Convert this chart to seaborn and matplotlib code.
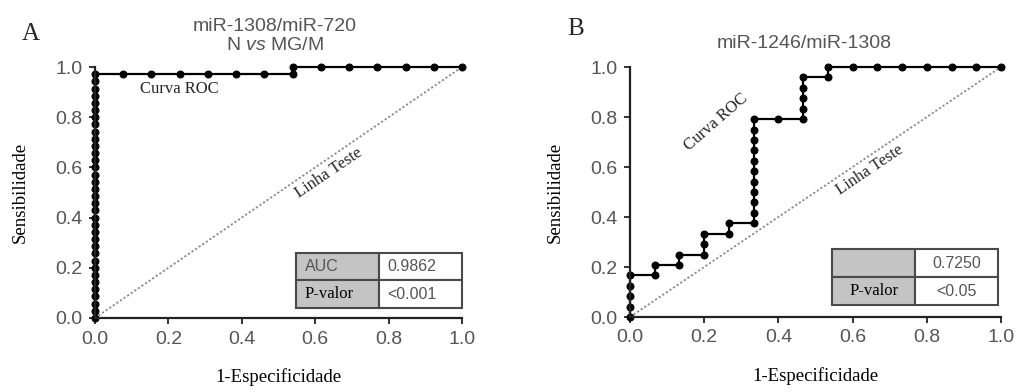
import numpy as np
import pandas as pd
import matplotlib
matplotlib.use('Agg')
import matplotlib.pyplot as plt
import seaborn as sns

# Painel A: miR-1308/miR-720 (N vs MG/M) - contagens FP / VP ao longo da curva
n_neg_a = 13
n_pos_a = 35
fp_a = [0, 0, 0, 0, 0, 0, 0, 0, 0, 0, 0, 0, 0, 0, 0, 0, 0, 0, 0, 0, 0, 0, 0, 0, 0, 0, 0, 0, 0, 0, 0, 0, 0, 0, 0,
        1, 2, 3, 4, 5, 6, 7, 7, 8, 9, 10, 11, 12, 13]
tp_a = [0, 1, 2, 3, 4, 5, 6, 7, 8, 9, 10, 11, 12, 13, 14, 15, 16, 17, 18, 19, 20, 21, 22, 23, 24, 25, 26, 27,
        28, 29, 30, 31, 32, 33, 34,
        34, 34, 34, 34, 34, 34, 34, 35, 35, 35, 35, 35, 35, 35]

# Painel B: miR-1246/miR-1308
n_neg_b = 15
n_pos_b = 24
fp_b = [0, 0, 0, 0, 0, 1, 1, 2, 2, 3, 3, 3, 4, 4, 5, 5, 5, 5, 5, 5, 5, 5, 5, 5, 5, 6,
        7, 7, 7, 7, 7, 8, 8, 9, 10, 11, 12, 13, 14, 15]
tp_b = [0, 1, 2, 3, 4, 4, 5, 5, 6, 6, 7, 8, 8, 9, 9, 10, 11, 12, 13, 14, 15, 16, 17, 18, 19, 19,
        19, 20, 21, 22, 23, 23, 24, 24, 24, 24, 24, 24, 24, 24]

table_a = [['AUC', '0.9862'], ['P-valor', '<0.001']]
table_b = [['', '0.7250'], ['P-valor', '<0.05']]

df_a = pd.DataFrame({'fpr': np.array(fp_a) / n_neg_a, 'tpr': np.array(tp_a) / n_pos_a})
df_b = pd.DataFrame({'fpr': np.array(fp_b) / n_neg_b, 'tpr': np.array(tp_b) / n_pos_b})
df_diag = pd.DataFrame({'fpr': [0, 1], 'tpr': [0, 1]})

sns.set_style('ticks')
plt.rcParams['font.family'] = ['Liberation Sans', 'DejaVu Sans']
plt.rcParams['mathtext.fontset'] = 'custom'
plt.rcParams['mathtext.rm'] = 'Liberation Sans'
plt.rcParams['mathtext.it'] = 'Liberation Sans:italic'

SERIF = ['Liberation Serif', 'DejaVu Serif']
GRAY_TXT = '#555555'
CELL_GRAY = '#c4c4c4'

fig = plt.figure(figsize=(10.17, 3.92), dpi=100)
ax_a = fig.add_axes([95 / 1017, 74 / 392, 367 / 1017, 251 / 392])
ax_b = fig.add_axes([630 / 1017, 75 / 392, 371 / 1017, 250 / 392])


def draw_roc(ax, df):
    sns.lineplot(data=df_diag, x='fpr', y='tpr', ax=ax, color='#8a8a8a',
                 linestyle=(0, (1.2, 1.2)), linewidth=1.3)
    sns.lineplot(data=df, x='fpr', y='tpr', ax=ax, sort=False, estimator=None,
                 color='black', linewidth=1.6, marker='o', markersize=5,
                 markeredgecolor='black', markerfacecolor='black')
    for line in ax.lines:
        line.set_clip_on(False)
    ax.set_xlim(0, 1)
    ax.set_ylim(0, 1)
    ax.set_xticks([0, 0.2, 0.4, 0.6, 0.8, 1.0])
    ax.set_yticks([0, 0.2, 0.4, 0.6, 0.8, 1.0])
    ax.set_xticklabels(['0.0', '0.2', '0.4', '0.6', '0.8', '1.0'])
    ax.set_yticklabels(['0.0', '0.2', '0.4', '0.6', '0.8', '1.0'])
    ax.tick_params(axis='both', labelsize=14, labelcolor=GRAY_TXT, color='#333333',
                   length=4, width=1.4, pad=5)
    sns.despine(ax=ax)
    for s in ['left', 'bottom']:
        ax.spines[s].set_linewidth(1.6)
        ax.spines[s].set_color('#222222')
    ax.set_xlabel('1-Especificidade', family=SERIF, fontsize=13.5, color='black', labelpad=15)
    ax.set_ylabel('Sensibilidade', family=SERIF, fontsize=13.5, color='black', labelpad=19)


def draw_table(ax, cells, bbox, loc):
    tab = ax.table(cellText=cells, cellColours=[[CELL_GRAY, 'white'], [CELL_GRAY, 'white']],
                   cellLoc=loc, bbox=bbox)
    tab.auto_set_font_size(False)
    for (r, c), cell in tab.get_celld().items():
        cell.set_edgecolor('#4a4a4a')
        cell.set_linewidth(1.5)
        txt = cell.get_text()
        if txt.get_text() == 'P-valor':
            txt.set_fontfamily(SERIF)
            txt.set_fontsize(12)
            txt.set_color('black')
        else:
            txt.set_fontsize(11.5)
            txt.set_color(GRAY_TXT)
    return tab


# Painel A
draw_roc(ax_a, df_a)
ax_a.set_title('miR-1308/miR-720\nN $\\mathit{vs}$ MG/M', fontsize=14, color=GRAY_TXT,
               linespacing=1.15, pad=12, x=0.49)
ax_a.text(0.229, 0.912, 'Curva ROC', family=SERIF, fontsize=12, ha='center', va='center')
ax_a.text(0.636, 0.578, 'Linha Teste', family=SERIF, fontsize=12, ha='center', va='center',
          rotation=34)
draw_table(ax_a, table_a, [0.549, 0.04, 0.451, 0.22], 'left')

# Painel B
draw_roc(ax_b, df_b)
ax_b.set_title('miR-1246/miR-1308', fontsize=14, color=GRAY_TXT, pad=14, x=0.47)
ax_b.text(0.232, 0.78, 'Curva ROC', family=SERIF, fontsize=12, ha='center', va='center',
          rotation=41)
ax_b.text(0.647, 0.588, 'Linha Teste', family=SERIF, fontsize=12, ha='center', va='center',
          rotation=34)
draw_table(ax_b, table_b, [0.545, 0.048, 0.447, 0.224], 'center')

fig.text(22 / 1017, 1 - 40 / 392, 'A', family=SERIF, fontsize=18, va='baseline')
fig.text(567 / 1017, 1 - 35 / 392, 'B', family=SERIF, fontsize=18, va='baseline')

fig.savefig('out.png', dpi=100)
